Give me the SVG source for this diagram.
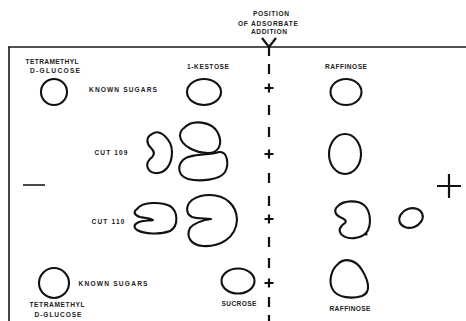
<svg xmlns="http://www.w3.org/2000/svg" width="466" height="321" viewBox="0 0 466 321">
  <style>
    .lbl { font-family: "Liberation Sans", Arial, sans-serif; font-size: 6.6px; font-weight: bold; fill: #222; text-anchor: middle; }
    .spot { fill: none; stroke: #111; stroke-width: 2.1; stroke-linejoin: round; }
    .rule { fill: none; stroke: #1a1a1a; stroke-width: 1.6; }
    .mark { fill: none; stroke: #111; stroke-width: 2.2; }
  </style>
  <defs>
    <path id="plus" d="M -4.5,0 H 4.5 M 0,-4.5 V 4.5" class="mark"/>
    <path id="dash" d="M 0,-5 V 5" class="mark"/>
  </defs>
  <rect width="466" height="321" fill="#fff"/>

  <!-- plate outline and start line -->
  <g id="frame">
    <path class="rule" d="M 8,47 H 466 M 9,47 V 321"/>
  </g>

  <!-- application line: marker, dashes and plus signs -->
  <g id="connectors">
    <path class="mark" d="M 262,38 L 269,47 L 276,38 M 269,47 V 56"/>
    <use href="#dash" x="269" y="69"/>
    <use href="#plus" x="269" y="88"/>
    <use href="#dash" x="269" y="110"/>
    <use href="#dash" x="269" y="132"/>
    <use href="#plus" x="269" y="154"/>
    <use href="#dash" x="269" y="178"/>
    <use href="#dash" x="269" y="201"/>
    <use href="#plus" x="269" y="219"/>
    <use href="#dash" x="269" y="242"/>
    <use href="#dash" x="269" y="263"/>
    <use href="#plus" x="269" y="283"/>
    <use href="#dash" x="269" y="302"/>
    <use href="#dash" x="269" y="320"/>
  </g>

  <g id="position-label">
    <text class="lbl" x="271" y="16" textLength="36">POSITION</text>
    <text class="lbl" x="268" y="26" textLength="60">OF ADSORBATE</text>
    <text class="lbl" x="269" y="34" textLength="36">ADDITION</text>
  </g>

  <!-- polarity signs -->
  <g id="minus"><path class="rule" d="M 23,185 H 45"/></g>
  <g id="plus-pole"><path class="mark" d="M 437,186 H 461 M 449,174 V 198"/></g>

  <!-- top row: known sugars -->
  <g id="tmg-top">
    <text class="lbl" x="52" y="64" textLength="53">TETRAMETHYL</text>
    <text class="lbl" x="55" y="73" textLength="50">D-GLUCOSE</text>
    <ellipse class="spot" cx="54" cy="92" rx="13" ry="13"/>
  </g>
  <g id="known-top"><text class="lbl" x="123" y="92" textLength="68">KNOWN SUGARS</text></g>
  <g id="kestose">
    <text class="lbl" x="208" y="69" textLength="42">1-KESTOSE</text>
    <ellipse class="spot" cx="204" cy="92" rx="17" ry="13"/>
  </g>
  <g id="raffinose-top">
    <text class="lbl" x="346" y="69" textLength="42">RAFFINOSE</text>
    <ellipse class="spot" cx="346" cy="92" rx="15.5" ry="13"/>
  </g>

  <!-- cut 109 -->
  <g id="cut109">
    <text class="lbl" x="111" y="155" textLength="33">CUT 109</text>
    <path class="spot" d="M 152,134 C 160,128 172,140 172,152 C 172,165 165,174 155,173 C 147,172 145,164 150,159 C 155,155 155,152 151,148 C 146,143 146,137 152,134 Z"/>
    <path class="spot" d="M 184,128 C 192,119 212,121 218,133 C 223,144 219,153 208,153 C 196,153 181,146 180,136 C 180,132 181,130 184,128 Z"/>
    <path class="spot" d="M 183,160 C 190,153 208,156 219,152 C 228,151 229,165 225,172 C 220,180 200,182 188,179 C 178,176 177,166 183,160 Z"/>
    <ellipse class="spot" cx="345" cy="154" rx="16" ry="20"/>
  </g>

  <!-- cut 110 -->
  <g id="cut110">
    <text class="lbl" x="108" y="224" textLength="33">CUT 110</text>
    <path class="spot" d="M 137,209 C 143,201 162,202 170,206 C 178,211 179,226 170,231 C 160,235 144,234 137,230 C 133,227 134,224 139,222 C 144,220 150,221 153,220 C 150,218 144,218 140,217 C 134,215 133,212 137,209 Z"/>
    <path class="spot" d="M 192,200 C 185,206 186,214 192,217 C 198,219 206,218 211,219 C 204,220 195,222 190,228 C 186,236 190,245 203,246 C 220,247 236,238 237,220 C 237,205 225,195 210,195 C 201,195 196,197 192,200 Z"/>
    <path class="spot" d="M 338,206 C 344,200 358,200 364,205 C 371,211 372,226 366,233 C 360,239 348,240 342,235 C 338,231 339,227 345,223 C 347,221 345,219 340,217 C 334,214 334,209 338,206 Z"/>
    <circle cx="366" cy="234" r="1.6" fill="#111"/>
    <ellipse class="spot" cx="411" cy="218" rx="12" ry="9.5" transform="rotate(-20 411 218)"/>
  </g>

  <!-- bottom row: known sugars -->
  <g id="tmg-bottom">
    <ellipse class="spot" cx="54" cy="283" rx="15" ry="15"/>
    <text class="lbl" x="57" y="307" textLength="55">TETRAMETHYL</text>
    <text class="lbl" x="58" y="317" textLength="47">D-GLUCOSE</text>
  </g>
  <g id="known-bottom"><text class="lbl" x="113" y="286" textLength="69">KNOWN SUGARS</text></g>
  <g id="sucrose">
    <ellipse class="spot" cx="238" cy="281" rx="16.5" ry="12.5"/>
    <text class="lbl" x="239" y="306" textLength="35">SUCROSE</text>
  </g>
  <g id="raffinose-bottom">
    <path class="spot" d="M 338,264 C 345,257 356,260 362,270 C 368,280 372,292 362,296 C 352,299 338,298 333,290 C 328,282 331,270 338,264 Z"/>
    <text class="lbl" x="350" y="311" textLength="41">RAFFINOSE</text>
  </g>
</svg>
